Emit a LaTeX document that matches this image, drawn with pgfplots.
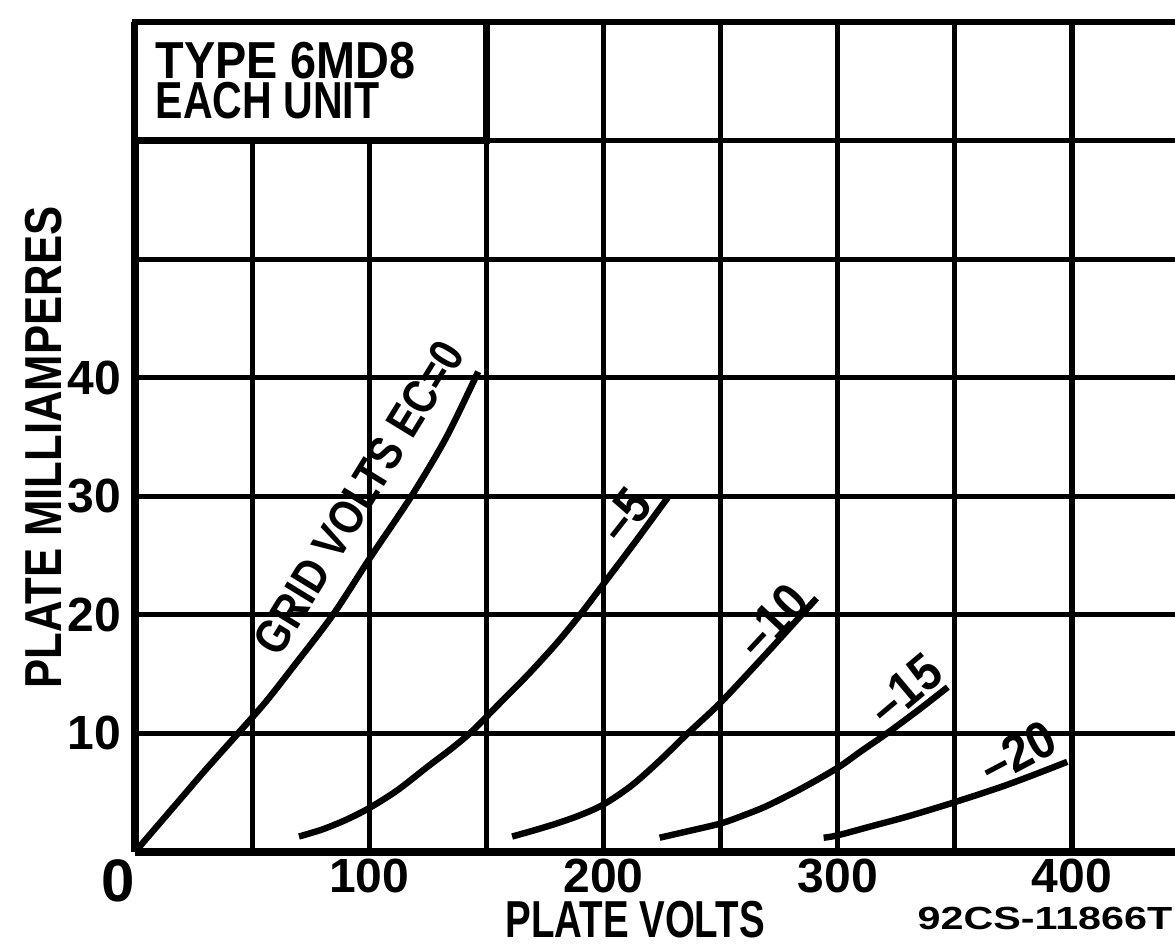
\documentclass[border=0pt]{standalone}
\usepackage{fontspec}
\setmainfont{Liberation Sans}
\usepackage{graphicx}
\usepackage{pgfplots}
\pgfplotsset{compat=1.18}
\newcommand\cx[2]{\scalebox{#1}[1]{#2}}
\begin{document}
\begin{tikzpicture}
\begin{axis}[
  scale only axis, width=260pt, height=207.5pt,
  xmin=0, xmax=444, ymin=0, ymax=70,
  axis x line*=bottom, axis y line*=left,
  axis line style={-, line width=1.8pt, black},
  xtick={0,50,...,400},
  xticklabels={,,\textbf{100},,\textbf{200},,\textbf{300},,\textbf{400}},
  ytick={0,10,...,70},
  yticklabels={,\textbf{10},\textbf{20},\textbf{30},\textbf{40},,,},
  major tick length=0pt,
  grid=major, grid style={black, line width=1.3pt},
  tick label style={font=\fontsize{12}{12}\selectfont\bfseries},
  xticklabel style={yshift=1.8pt},
  yticklabel style={xshift=0pt},
  clip=false,
]
\draw[line width=1.6pt, fill=white] (axis cs:0,60) rectangle (axis cs:150,70);
\node[anchor=base west, inner sep=0pt, font=\fontsize{13}{13}\selectfont\bfseries] at (axis cs:8.5,65.2) {\cx{0.9}{TYPE 6MD8}};
\node[anchor=base west, inner sep=0pt, font=\fontsize{13}{13}\selectfont\bfseries] at (axis cs:8.5,61.9) {\cx{0.79}{EACH UNIT}};

% Ec = 0
\addplot[black, line width=1.6pt, smooth, tension=0.5] coordinates {
 (0,0) (10,2.3) (20,4.6) (30,6.9) (44,10) (56,12.7) (67.5,15.6) (84.5,20) (101,25) (118,30) (133,35) (146.5,40.5)};
% Ec = -5
\addplot[black, line width=1.6pt, smooth, tension=0.5] coordinates {
 (70,1.3) (80,1.9) (90,2.7) (100,3.7) (112,5.2) (125,7.2) (135,8.7) (144,10.2) (155,12.4) (168,15.0) (180,17.6) (190,20.0) (200,22.6) (213,26.0) (227.5,29.9)};
% Ec = -10
\addplot[black, line width=1.6pt, smooth, tension=0.5] coordinates {
 (161,1.3) (170,1.8) (180,2.4) (190,3.1) (200,4.0) (212,5.6) (224,7.7) (236,10.0) (250,12.6) (268,16.4) (280,19.0) (291,21.4)};
% Ec = -15
\addplot[black, line width=1.6pt, smooth, tension=0.5] coordinates {
 (224,1.2) (235,1.7) (250,2.4) (260,3.1) (270,3.9) (285,5.4) (300,7.1) (310,8.5) (321,10) (334,11.9) (347,13.9)};
% Ec = -20
\addplot[black, line width=1.6pt, smooth, tension=0.5] coordinates {
 (294,1.2) (300,1.4) (315,2.2) (330,3.0) (350,4.2) (370,5.5) (385,6.6) (398,7.6)};

\node[rotate=58.5, font=\fontsize{12}{12}\selectfont\bfseries] at (axis cs:95.5,29.9) {\cx{0.84}{GRID VOLTS EC=0}};
\node[rotate=52, font=\fontsize{13}{13}\selectfont\bfseries] at (axis cs:209,28.4) {\cx{0.9}{--5}};
\node[rotate=47, font=\fontsize{13}{13}\selectfont\bfseries] at (axis cs:272,19.5) {\cx{0.9}{--10}};
\node[rotate=40, font=\fontsize{13}{13}\selectfont\bfseries] at (axis cs:328.8,13.7) {\cx{0.9}{--15}};
\node[rotate=28, font=\fontsize{13}{13}\selectfont\bfseries] at (axis cs:377,8.4) {\cx{0.9}{--20}};

\node[font=\fontsize{15}{15}\selectfont\bfseries] at (axis cs:-7.3,-2.4) {0};
\node[font=\fontsize{13}{13}\selectfont\bfseries] at (axis cs:213.5,-5.7) {\cx{0.74}{PLATE VOLTS}};
\node[rotate=90, font=\fontsize{13}{13}\selectfont\bfseries] at (axis cs:-38.9,34.1) {\cx{0.84}{PLATE MILLIAMPERES}};
\node[font=\fontsize{8}{8}\selectfont\bfseries] at (axis cs:388.5,-5.6) {\cx{1.29}{92CS-11866T}};

\coordinate (bbLL) at (axis cs:-57.64,-8.434);
\coordinate (bbUR) at (axis cs:444,71.855);
\end{axis}
\pgfresetboundingbox
\useasboundingbox (bbLL) rectangle (bbUR);
\end{tikzpicture}
\end{document}
